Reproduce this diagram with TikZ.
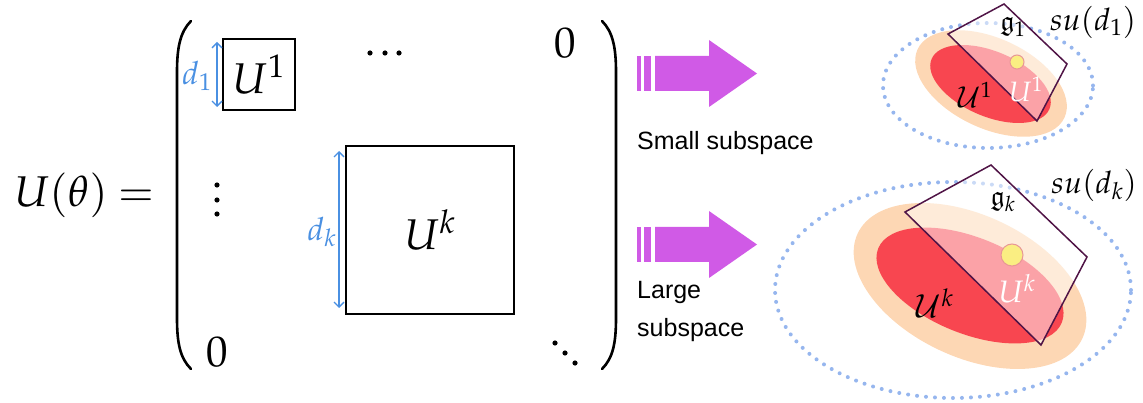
\documentclass[tikz,border=0pt]{standalone}
\usepackage{mathpazo}
\usepackage{amssymb}
\usepackage[no-math]{fontspec}
\newfontfamily\lsans{Liberation Sans}
\usetikzlibrary{arrows.meta}
\definecolor{dblue}{RGB}{74,144,226}
\definecolor{dotblue}{RGB}{150,182,238}
\definecolor{mag}{RGB}{208,90,230}
\definecolor{peach}{RGB}{253,215,180}
\definecolor{redl}{RGB}{248,70,80}
\definecolor{quadc}{RGB}{80,20,70}
\definecolor{yel}{RGB}{250,238,130}
\definecolor{yelb}{RGB}{232,150,150}
\tikzset{
  big/.style={inner sep=0pt, font=\fontsize{43}{50}\selectfont},
  lab/.style={inner sep=0pt, text=dblue, font=\fontsize{32}{36}\selectfont},
  mbox/.style={draw, line width=1.3pt, inner sep=0pt, font=\fontsize{43}{50}\selectfont},
  dimarrow/.style={draw=dblue, line width=1.3pt, {Straight Barb[length=5pt,width=10pt]}-{Straight Barb[length=5pt,width=10pt]}},
  paren/.style={line width=2.6pt, line cap=round},
  sanslab/.style={inner sep=0pt, anchor=west, font=\lsans\fontsize{25}{38}\selectfont, align=left},
  dotell/.style={draw=dotblue, line width=4pt, line cap=round, dash pattern=on 0pt off 9pt},
  quad/.style={draw=quadc, line width=1.5pt, fill=white, fill opacity=0.5, draw opacity=1},
  ydot/.style={fill=yel, draw=yelb, line width=1pt},
  small/.style={inner sep=0pt, font=\fontsize{29}{34}\selectfont},
  mdot/.style={fill=black},
}
\begin{document}
\begin{tikzpicture}[x=1pt,y=-1pt]
\useasboundingbox (0,0) rectangle (1143,403);
% left side
\node[big, anchor=base west] (lhs) at (14,207) {$U(\theta)$};
\node[big, anchor=base] (eq) at (136,207) {$=$};
% parentheses
\draw[paren] (191,21) .. controls (180,32) and (177,48) .. (177,72) -- (177,318) .. controls (177,343) and (180,358) .. (191,369);
\draw[paren] (602,21) .. controls (613,32) and (616,48) .. (616,72) -- (616,318) .. controls (616,343) and (613,358) .. (602,369);
% blocks
\node[mbox, minimum width=72pt, minimum height=71pt] (b1) at (259,74.5) {$U^1$};
\node[mbox, minimum width=168pt, minimum height=168pt] (bk) at (430,230) {$U^k$};
% dimension arrows
\coordinate (a1t) at (217,42); \coordinate (a1b) at (217,107);
\draw[dimarrow] (a1t) -- (a1b);
\node[lab] (d1) at (197,76) {$d_1$};
\coordinate (akt) at (339,151); \coordinate (akb) at (339,308);
\draw[dimarrow] (akt) -- (akb);
\node[lab] (dk) at (322,232) {$d_k$};
% entries
\foreach \px/\py in {370/53,385/53,399/53, 217/185,217/200,217/214, 555/343,565/353,575/363}
  \fill[mdot] (\px,\py) circle [radius=2.6pt];
\node[big] (z1) at (565,43) {$0$};
\node[big] (z2) at (217,352) {$0$};
% magenta arrows
\foreach \cy in {73.5,244.5} {
  \fill[mag] (637,\cy-17.5) rectangle (641,\cy+17.5);
  \fill[mag] (644,\cy-17.5) rectangle (651,\cy+17.5);
  \fill[mag] (655,\cy-17.5) -- (709,\cy-17.5) -- (709,\cy-33.5) -- (757,\cy) -- (709,\cy+33.5) -- (709,\cy+17.5) -- (655,\cy+17.5) -- cycle;
}
\node[sanslab] (s1) at (637,143) {Small subspace};
\node[sanslab, anchor=north west] (s2) at (637,281) {Large\\subspace};
% small subspace picture
\draw[dotell] (988,85.5) ellipse [x radius=105pt, y radius=62.5pt];
\fill[peach, rotate around={-25:(991,83.5)}] (991,83.5) ellipse [x radius=81pt, y radius=45pt];
\fill[redl, rotate around={-23:(990.5,84)}] (990.5,84) ellipse [x radius=64pt, y radius=32.5pt];
\node[small] (cu1) at (975,95) {$\mathcal{U}^1$};
\draw[quad] (1004,4) -- (1067,64) -- (1037,121) -- (948,34) -- cycle;
\draw[ydot] (1017,62) circle [radius=7pt];
\node[small, text=white, font=\fontsize{28}{32}\selectfont] (w1) at (1026,89) {$U^1$};
\node[small, font=\fontsize{28}{32}\selectfont] (g1) at (1013,27) {$\mathfrak{g}_1$};
\node[small, font=\fontsize{31}{36}\selectfont] (su1) at (1093,22) {$su(d_1)$};
% large subspace picture
\draw[dotell] (953,290) ellipse [x radius=178pt, y radius=108pt];
\fill[peach, rotate around={-25:(970,286)}] (970,286) ellipse [x radius=124pt, y radius=71pt];
\fill[redl, rotate around={-22:(970,285.5)}] (970,285.5) ellipse [x radius=99pt, y radius=48pt];
\node[small, font=\fontsize{32}{36}\selectfont] (cuk) at (935,303) {$\mathcal{U}^k$};
\draw[quad] (991,165) -- (1087,257) -- (1041,345) -- (905,212) -- cycle;
\draw[ydot] (1012,255) circle [radius=11pt];
\node[small, text=white, font=\fontsize{31}{34}\selectfont] (wk) at (1017,289) {$U^k$};
\node[small, font=\fontsize{28}{32}\selectfont] (gk) at (1003,202) {$\mathfrak{g}_k$};
\node[small, font=\fontsize{31}{36}\selectfont] (suk) at (1094,185) {$su(d_k)$};
\end{tikzpicture}
\end{document}
